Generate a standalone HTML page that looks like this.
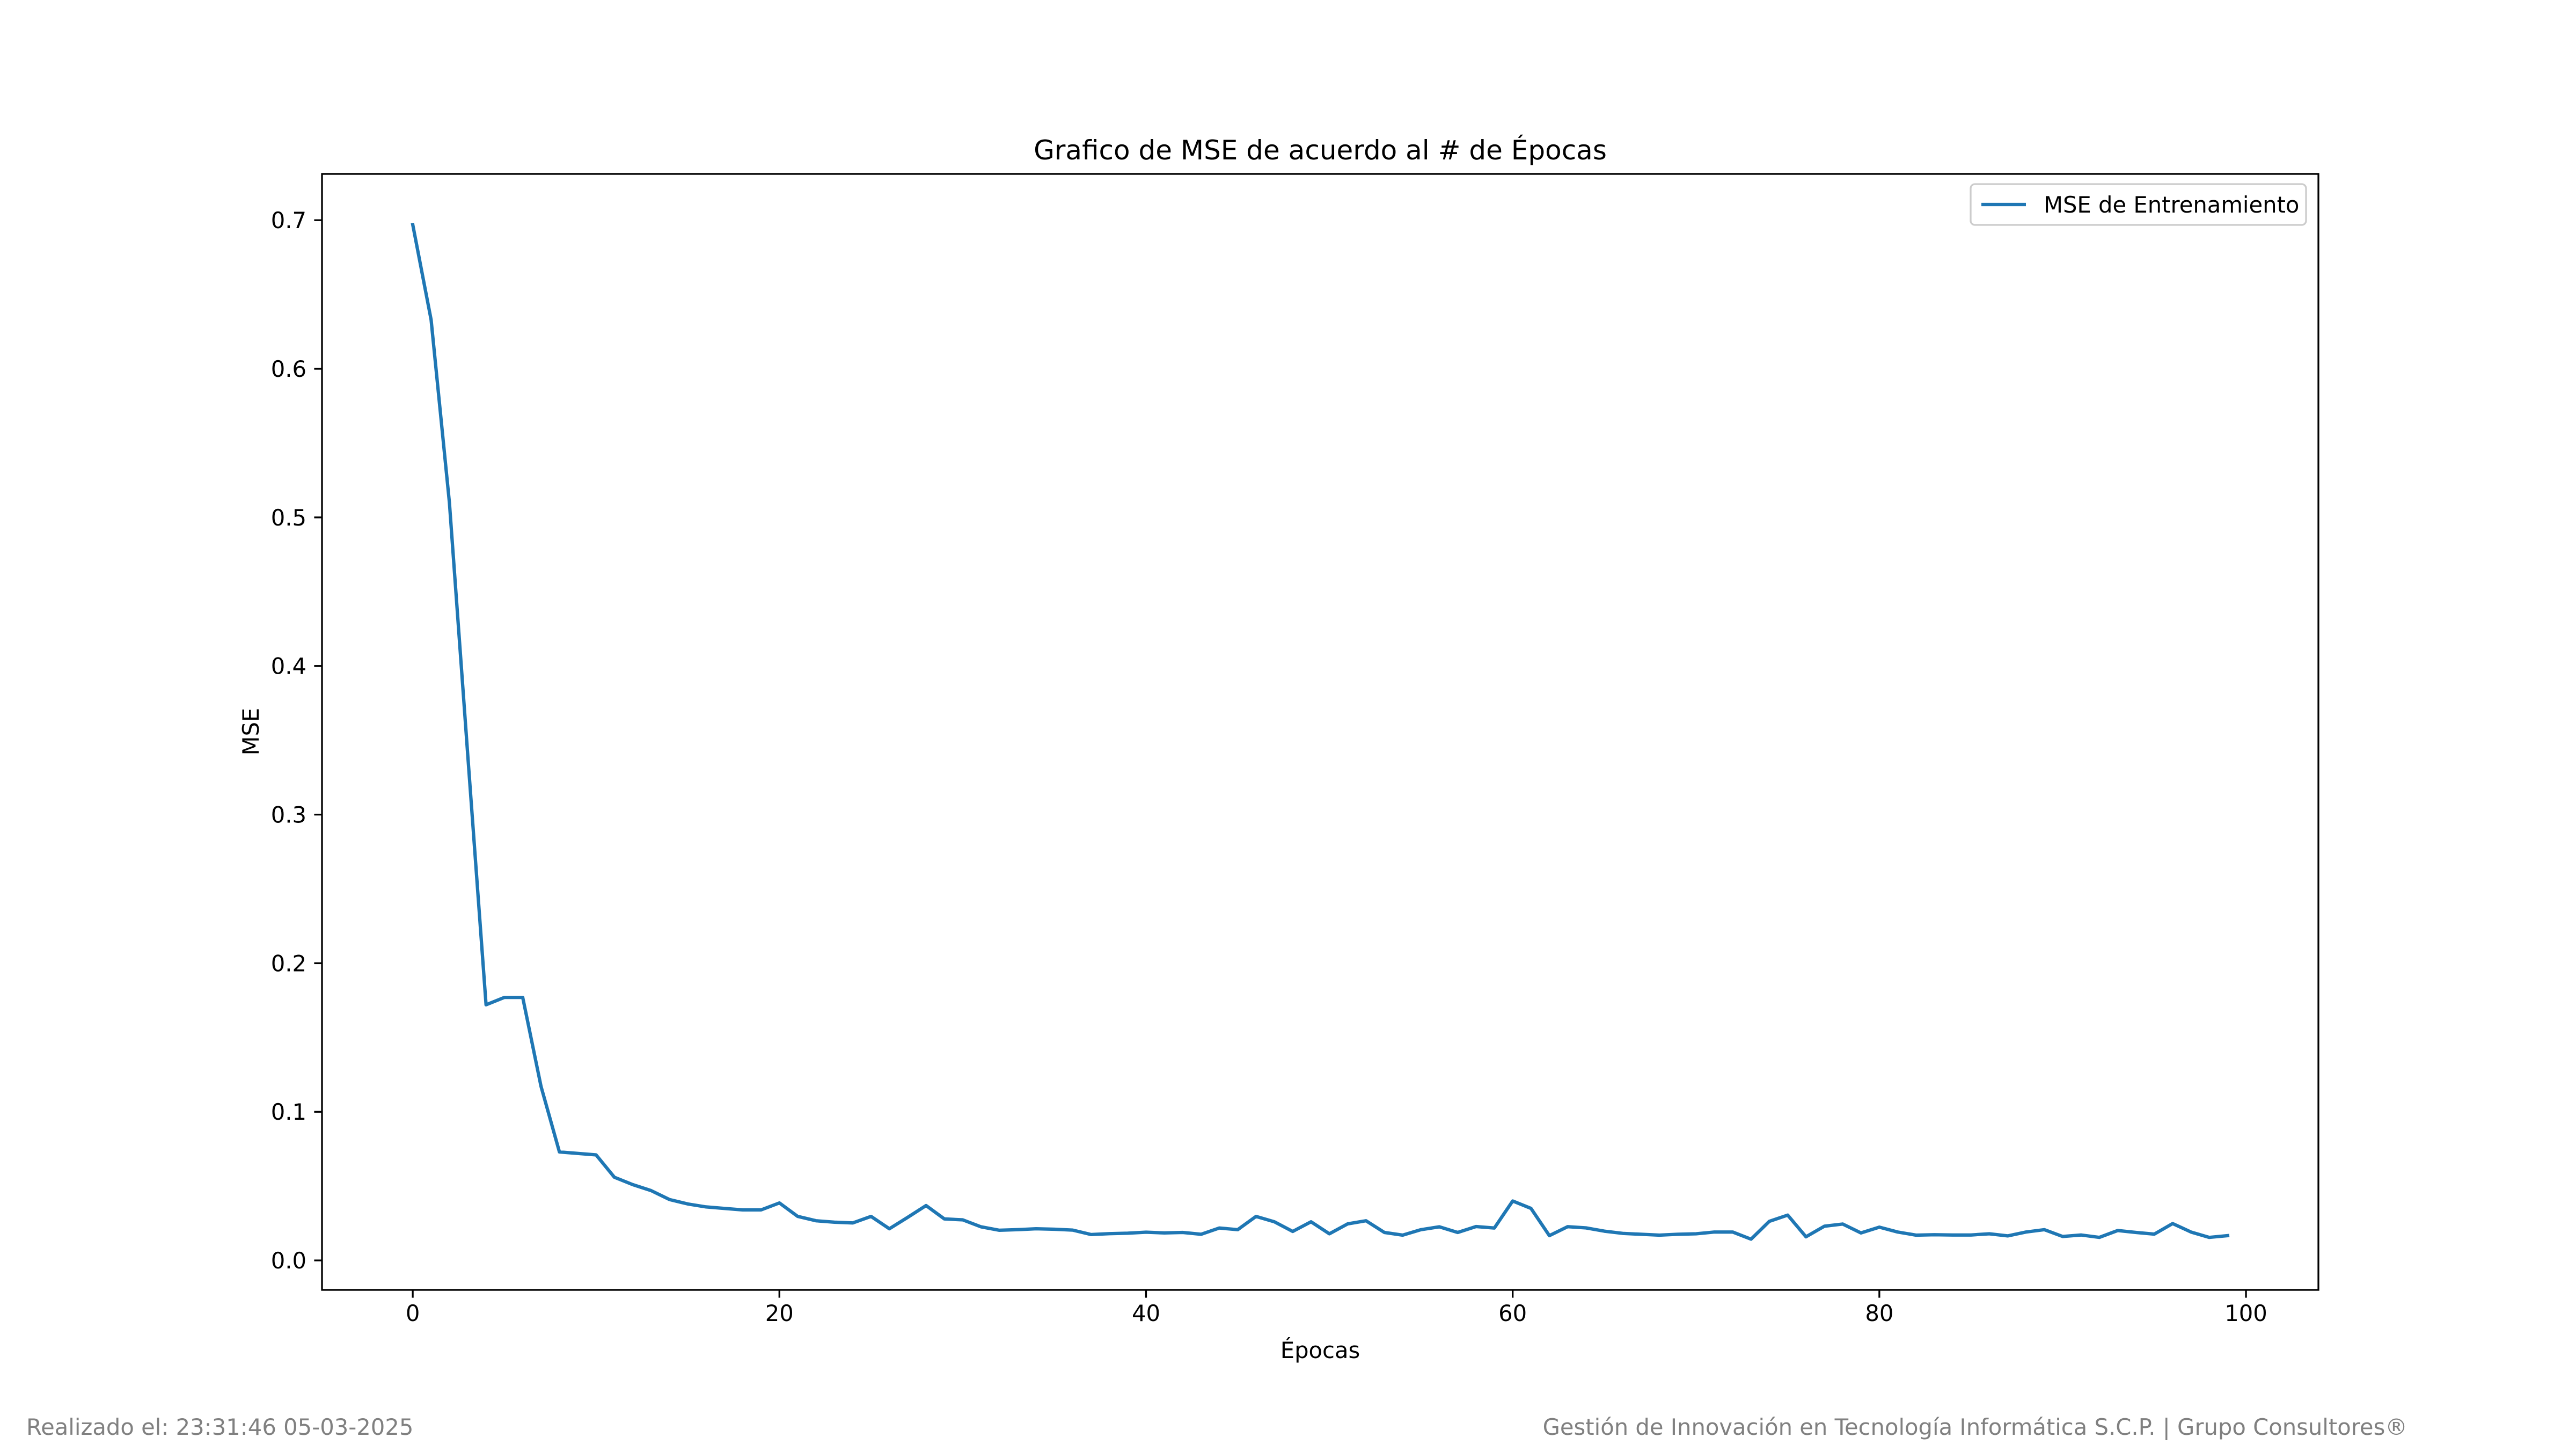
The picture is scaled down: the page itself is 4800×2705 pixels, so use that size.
<!DOCTYPE html>
<html><head><meta charset="utf-8"><style>
html,body{margin:0;padding:0;background:#fff}
svg text{font-family:"DejaVu Sans","Liberation Sans",sans-serif}
</style></head><body>
<svg id="chart" width="4800" height="2700" viewBox="0 0 4800 2700" xmlns="http://www.w3.org/2000/svg">
<rect x="0" y="0" width="4800" height="2700" fill="#fff"/>
<text x="2460" y="297" font-size="50" text-anchor="middle">Grafico de MSE de acuerdo al # de Épocas</text>
<g id="ticks"></g>
<polyline id="series" fill="none" stroke="#1f77b4" stroke-width="6.25" stroke-linejoin="round" stroke-linecap="square"/>
<rect x="600" y="324" width="3720" height="2079" fill="none" stroke="#000" stroke-width="3.3"/>
<text x="2460" y="2530" font-size="41.7" text-anchor="middle">Épocas</text>
<text x="0" y="0" font-size="41.7" text-anchor="middle" transform="translate(482,1363) rotate(-90)">MSE</text>
<g>
<rect x="3672" y="343" width="625" height="76" rx="8" fill="#fff" stroke="#ccc" stroke-width="3.3"/>
<line x1="3692" y1="381" x2="3775" y2="381" stroke="#1f77b4" stroke-width="6.25"/>
<text x="3808" y="396" font-size="41.7">MSE de Entrenamiento</text>
</g>
<text x="49" y="2673" font-size="41.7" fill="#808080">Realizado el: 23:31:46 05-03-2025</text>
<text x="4486" y="2673" font-size="41.7" fill="#808080" text-anchor="end">Gestión de Innovación en Tecnología Informática S.C.P. | Grupo Consultores®</text>
</svg>
<script>
const epochs = Array.from({length:100},(_, i)=>i);
const mseValues = [0.697,0.633,0.51,0.34,0.172,0.177,0.177,0.117,0.073,0.072,
0.071,0.056,0.051,0.047,0.041,0.038,0.036,0.035,0.034,0.034,
0.0387,0.0296,0.0267,0.0257,0.0252,0.0296,0.0213,0.029,0.0369,0.0279,
0.0273,0.0226,0.0203,0.0207,0.0213,0.021,0.0204,0.0174,0.018,0.0183,
0.019,0.0185,0.0188,0.0176,0.0218,0.0207,0.0296,0.026,0.0195,0.026,
0.0179,0.0246,0.0267,0.0188,0.017,0.0207,0.0226,0.0188,0.0228,0.0218,
0.040,0.035,0.0167,0.0227,0.0219,0.0197,0.0182,0.0176,0.017,0.0176,
0.0179,0.0191,0.0191,0.0143,0.0263,0.0305,0.0159,0.023,0.0245,0.0185,
0.0224,0.0191,0.017,0.0173,0.0171,0.0171,0.0179,0.0165,0.0191,0.0207,
0.0161,0.0171,0.0155,0.0201,0.0188,0.0177,0.0248,0.0191,0.0155,0.0167];
const xTicks = [0,20,40,60,80,100];
const yTicks = [0.0,0.1,0.2,0.3,0.4,0.5,0.6,0.7];
const yTickLabels = ["0.0","0.1","0.2","0.3","0.4","0.5","0.6","0.7"];

const L=600,R=4320,T=324,B=2403;
const xmin=-4.95,xmax=103.95;
const vmin=Math.min(...mseValues),vmax=Math.max(...mseValues);
const ymin=vmin-0.05*(vmax-vmin),ymax=vmax+0.05*(vmax-vmin);
const xs=v=>L+(v-xmin)/(xmax-xmin)*(R-L);
const ys=v=>B-(v-ymin)/(ymax-ymin)*(B-T);
const NS="http://www.w3.org/2000/svg";
const g=document.getElementById('ticks');
function mk(tag,attrs){const e=document.createElementNS(NS,tag);for(const k in attrs)e.setAttribute(k,attrs[k]);return e;}
xTicks.forEach(t=>{
  const x=xs(t);
  const l=mk('line',{x1:x,x2:x,y1:B,y2:B+14.6,stroke:'#000','stroke-width':3.3});
  
  
  g.appendChild(l);
  const tx=mk('text',{x:x,y:B+58,'font-size':41.7,'text-anchor':'middle'});
  
  
  tx.textContent=String(t);g.appendChild(tx);
});
yTicks.forEach((t,i)=>{
  const y=ys(t);
  const l=mk('line',{x1:L-14.6,x2:L,y1:y,y2:y,stroke:'#000','stroke-width':3.3});
  
  
  g.appendChild(l);
  const tx=mk('text',{x:L-29,y:y+15,'font-size':41.7,'text-anchor':'end'});
  
  
  tx.textContent=yTickLabels[i];g.appendChild(tx);
});
document.getElementById('series').setAttribute('points',epochs.map((e,i)=>xs(e).toFixed(1)+','+ys(mseValues[i]).toFixed(1)).join(' '));
</script>
</body></html>
